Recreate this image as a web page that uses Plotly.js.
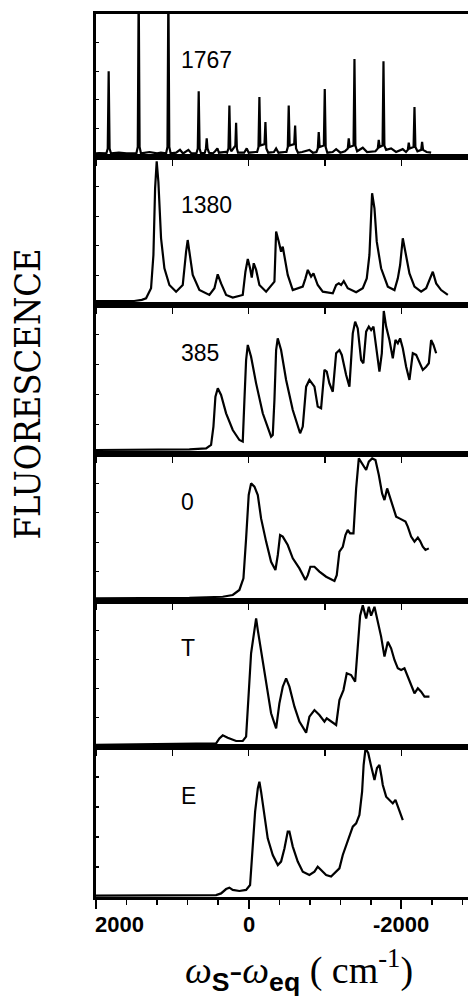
<!DOCTYPE html>
<html>
<head>
<meta charset="utf-8">
<script src="https://cdn.plot.ly/plotly-3.0.1.min.js"></script>
<style>html,body{margin:0;padding:0;background:#fff;}#chart{width:468px;height:1003px;}</style>
</head>
<body>
<div id="chart"></div>
<script>
// Panel labels
const panelLabels = ['1767', '1380', '385', '0', 'T', 'E'];

// Panel 1 (1767) : x = omega_S - omega_eq (cm^-1), y = relative fluorescence (0-100 per panel)
const p1x = [2000,1960,1864,1846,1834,1822,1804,1700,1600,1471,1453,1441,1429,1411,1300,1200,1150,1082,1064,1052,1040,1022,950,900,860,790,750,685,667,655,643,625,575,560,550,540,520,470,440,410,390,300,283,265,253,241,229,175,165,155,140,60,26,0,-90,-110,-128,-140,-152,-207,-219,-231,-255,-330,-359,-390,-470,-494,-512,-524,-536,-596,-608,-620,-645,-700,-795,-840,-887,-905,-917,-929,-984,-996,-1008,-1030,-1100,-1145,-1200,-1260,-1298,-1310,-1322,-1373,-1385,-1397,-1420,-1494,-1550,-1660,-1691,-1703,-1715,-1753,-1765,-1777,-1800,-1865,-1930,-2017,-2060,-2084,-2096,-2108,-2159,-2171,-2183,-2210,-2259,-2271,-2283,-2330,-2389];
const p1y = [2.5,2.8,2.5,6,60,6,2.5,3,2.5,2.5,7,120,7,2.5,3.5,2.5,3,2.5,7,120,7,2.5,3,5,2.5,5,2.5,2.5,6,46,6,2.5,3,6,13,6,3,2.5,4,6,3,3.5,3,6,36,6,4,8,24,6,3,3,6,3,3.5,3.5,7,42,8,9,24.5,6,3,3.5,6,3,3.5,3.5,7,36,8,9,22,6,3,3.5,5,3,3.5,6,17.5,7,8,47.6,7,3,3.5,5.5,3,4,6,13,7,8,68.5,8,4,6.5,3.5,4,6,12,7,8,67,8,5,6,3.5,5.5,3.5,5,10,6,7,35,7,4,5,10.5,5,3.5,3];

// Panel 2 (1380)
const p2x = [2000,1500,1400,1344,1279,1248,1226,1205,1183,1148,1104,1039,951,864,820,799,777,733,646,515,449,406,362,296,209,78,43,12,-18,-40,-66,-97,-140,-228,-337,-359,-394,-424,-446,-468,-511,-577,-708,-743,-774,-817,-848,-904,-970,-1101,-1145,-1180,-1210,-1245,-1297,-1407,-1494,-1546,-1581,-1616,-1647,-1677,-1734,-1822,-1909,-1953,-1983,-2018,-2053,-2105,-2171,-2258,-2324,-2376,-2411,-2455,-2520,-2608];
const p2y = [2.7,2.7,3.5,4.5,11.3,33.8,78.8,97,83.3,45.1,24.8,13.5,9.0,13.5,36.0,43.9,36.0,20.3,10.1,6.8,11.3,20.7,14.6,6.8,5.0,6.8,22.5,31.1,24.8,18.5,28.2,23.7,13.5,9.0,15.8,49.6,42.8,36.0,39.4,33.8,20.3,10.1,12.4,18.0,23.7,19.2,21.4,13.5,9.0,7.9,13.5,14.6,13.5,16.2,11.3,8.6,11.3,18.0,33.8,75.5,65.3,42.8,24.8,12.4,10.1,18.0,27.0,45.1,36.0,21.4,12.4,9.0,11.3,18.0,22.5,14.6,10.1,6.8];

// Panel 3 (385)
const p3x = [2000,777,558,493,462,436,405,362,296,209,122,78,56,34,12,-31,-97,-184,-293,-315,-337,-359,-380,-424,-490,-577,-673,-708,-752,-795,-861,-904,-948,-992,-1022,-1057,-1101,-1145,-1188,-1219,-1276,-1319,-1363,-1394,-1428,-1472,-1502,-1538,-1573,-1603,-1634,-1668,-1712,-1743,-1769,-1800,-1843,-1887,-1922,-1953,-1983,-2018,-2062,-2105,-2149,-2193,-2237,-2280,-2324,-2359,-2389,-2420,-2455];
const p3y = [2.7,3.1,3.8,6.1,18.4,38.5,44.1,39.6,27.3,16.1,9.4,8.3,36.3,63.1,73.2,65.3,47.4,27.3,11.6,12.8,36.3,69.8,77.6,69.8,49.7,29.5,13.9,18.4,45.2,49.7,45.2,31.8,30.7,56.4,55.3,47.4,41.8,67.6,69.8,66.5,53.0,45.2,81.0,88.8,84.3,63.1,60.9,82.1,85.5,83.2,85.5,72.0,55.3,67.6,96,85.5,76.5,64.2,76.5,74.3,77.6,71.0,58.6,49.7,67.6,66.5,60.9,56.4,58.6,60.9,76.5,73.2,67.6];

// Panel 4 (0)
const p4x = [2000,777,340,209,122,69,34,0,-31,-75,-119,-162,-228,-293,-350,-381,-411,-446,-511,-577,-664,-743,-774,-808,-861,-926,-1014,-1123,-1153,-1188,-1232,-1267,-1297,-1328,-1372,-1407,-1442,-1485,-1538,-1573,-1617,-1660,-1704,-1747,-1778,-1813,-1843,-1887,-1931,-1974,-2018,-2053,-2083,-2127,-2171,-2215,-2245,-2280,-2315,-2359];
const p4y = [1.8,2.2,2.9,4.1,7.5,15.4,42.6,72.1,80.0,77.8,72.1,56.2,40.4,26.7,21.1,31.3,44.9,43.8,38.1,29.0,22.2,14.3,17.6,23.3,23.3,20.0,16.5,13.6,17.6,33.5,36.9,44.9,48.3,46.0,46.0,76.6,97.0,93.6,89.1,94.8,97.0,95.9,85.7,73.2,68.7,76.6,72.1,64.2,57.4,56.2,55.1,54.0,50.6,43.8,40.4,43.1,40.8,37.0,34.7,35.8];

// Panel 5 (T)
const p5x = [2000,1388,995,427,384,340,275,165,78,34,0,-31,-75,-97,-119,-162,-228,-293,-359,-402,-446,-490,-533,-599,-664,-752,-795,-861,-926,-992,-1022,-1079,-1145,-1188,-1241,-1284,-1341,-1394,-1428,-1459,-1494,-1538,-1573,-1603,-1647,-1690,-1734,-1778,-1822,-1865,-1909,-1953,-1996,-2040,-2083,-2127,-2171,-2215,-2258,-2302,-2367];
const p5y = [1.4,1.8,2.1,2.5,5.9,8.0,6.4,4.1,4.1,7.1,36.8,64.2,80.1,88.1,80.1,66.4,43.6,23.1,12.8,29.9,41.3,47.0,41.3,27.6,17.4,9.8,20.8,25.3,21.9,17.4,19.6,17.4,15.1,32.2,39.0,50.5,49.3,44.8,66.4,90,97,88,96,90,96,86,75.6,61.9,72.1,67.6,59.6,53.9,52.7,53.9,48.2,43.6,36.8,40.2,37.9,34.5,34.5];

// Panel 6 (E)
const p6x = [2000,1213,427,362,296,253,209,122,34,-18,-53,-84,-119,-140,-162,-206,-249,-315,-381,-424,-468,-511,-533,-577,-642,-708,-795,-861,-904,-948,-1014,-1079,-1145,-1188,-1232,-1276,-1319,-1363,-1407,-1450,-1485,-1505,-1530,-1565,-1600,-1647,-1680,-1712,-1740,-1756,-1800,-1843,-1887,-1922,-1953,-1983,-2018];
const p6y = [0.9,1.3,1.3,2.4,5.3,6.2,4.7,4.0,4.7,8.0,32.4,56.9,72.4,76.9,70.2,54.7,39.1,28.0,21.3,23.6,32.4,43.6,43.6,33.6,23.6,16.9,14.7,16.9,20.2,18.0,14.7,13.6,16.9,19.1,28.0,34.7,41.3,46.9,49.1,54.7,70.2,88,99,96,88,78,86,88,80,74.7,66.9,64.7,62.4,64.7,60.2,55.8,51.3];

// Axis tick labels
const xTickVals = [2000, 0, -2000];
const xTickText = ['2000', '0', '-2000'];

const seriesX = [p1x, p2x, p3x, p4x, p5x, p6x];
const seriesY = [p1y, p2y, p3y, p4y, p5y, p6y];

// panel pixel boundaries (top -> bottom) inside a 883px-high plot area
const bounds = [14, 157, 305, 454, 601, 747, 897];
const plotTop = 14, plotBottom = 897, plotH = plotBottom - plotTop;
const xRange = [2000, -2872];

const data = [];
const layout = {
  width: 468, height: 1003,
  margin: {l: 96, r: 0, t: 14, b: 106},
  paper_bgcolor: '#ffffff', plot_bgcolor: '#ffffff',
  showlegend: false,
  annotations: []
};

for (let i = 0; i < 6; i++) {
  const n = i + 1;
  const xa = 'x' + (n === 1 ? '' : n), ya = 'y' + (n === 1 ? '' : n);
  data.push({
    x: seriesX[i], y: seriesY[i], xaxis: xa, yaxis: ya,
    type: 'scatter', mode: 'lines',
    line: {color: '#000', width: 2.2}, hoverinfo: 'skip'
  });
  const d0 = (plotBottom - bounds[i + 1]) / plotH;
  const d1 = (plotBottom - bounds[i]) / plotH;
  const xKey = 'xaxis' + (n === 1 ? '' : n), yKey = 'yaxis' + (n === 1 ? '' : n);
  const xaxis = {
    domain: [0, 1], anchor: ya, range: xRange, showgrid: false, zeroline: false,
    showline: true, linecolor: '#000', linewidth: 2.8, mirror: true,
    showticklabels: false, ticks: 'outside', tick0: 0, dtick: 1000,
    ticklen: 6, tickwidth: 1.5, tickcolor: '#000'
  };
  if (n === 6) {
    xaxis.dtick = 2000; xaxis.ticklen = 9; xaxis.tickwidth = 2;
    xaxis.minor = {dtick: 400, tick0: 0, ticklen: 5, tickwidth: 1.5, tickcolor: '#000', ticks: 'outside', showgrid: false};
  }
  if (n > 1) xaxis.matches = 'x';
  layout[xKey] = xaxis;
  layout[yKey] = {
    domain: [d0, d1], anchor: xa, range: [0, 100], showgrid: false, zeroline: false,
    showline: true, linecolor: '#000', linewidth: 2.8,
    showticklabels: false, ticks: 'inside', tick0: 0, dtick: 20, ticklen: 3,
    tickwidth: 1.2, tickcolor: '#000', fixedrange: true
  };
  layout.annotations.push({
    xref: xa, yref: ya, x: 910, y: 67.5, xanchor: 'left', yanchor: 'middle',
    text: panelLabels[i], showarrow: false,
    font: {family: '"Liberation Sans", Arial, sans-serif', size: 23, color: '#000'}
  });
}

// bottom tick labels
xTickVals.forEach((v, k) => {
  layout.annotations.push({
    xref: 'x6', yref: 'paper', x: v, y: -0.0317, xanchor: 'center', yanchor: 'middle',
    xshift: k === 0 ? 23 : 0,
    text: '<b>' + xTickText[k] + '</b>', showarrow: false,
    font: {family: '"Liberation Sans", Arial, sans-serif', size: 22, color: '#000'}
  });
});

// x-axis title
layout.annotations.push({
  xref: 'paper', yref: 'paper', x: 0.546, y: -0.083, xanchor: 'center', yanchor: 'middle',
  showarrow: false,
  text: '<i>ω</i><sub><span style="font-family:Liberation Sans;font-weight:bold">S</span></sub>-<i>ω</i><sub><span style="font-family:Liberation Sans;font-weight:bold">eq</span></sub> ( cm<sup>-1</sup>)',
  font: {family: '"Liberation Serif", "Times New Roman", serif', size: 38, color: '#000'}
});

// y-axis title
layout.annotations.push({
  xref: 'paper', yref: 'paper', x: -0.1828, y: 0.5702, xanchor: 'center', yanchor: 'middle',
  textangle: -90, showarrow: false, text: 'FLUORESCENCE',
  font: {family: '"DejaVu Serif Condensed", "DejaVu Serif", "Liberation Serif", serif', size: 36, color: '#000'}
});

Plotly.newPlot('chart', data, layout, {staticPlot: true, displayModeBar: false});
</script>
</body>
</html>
